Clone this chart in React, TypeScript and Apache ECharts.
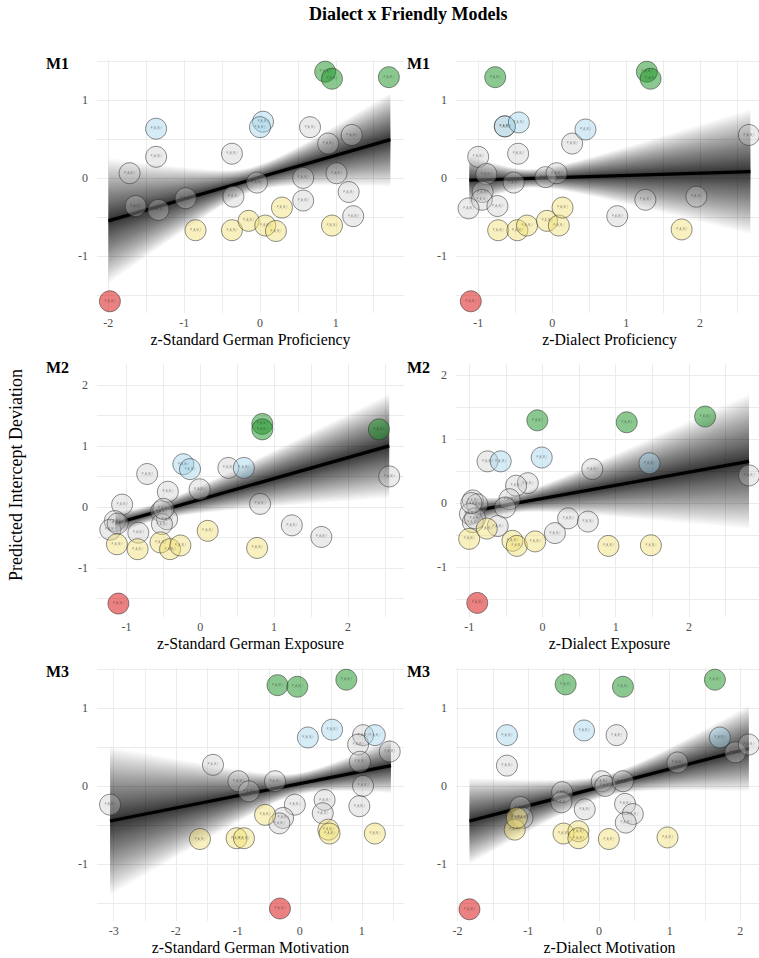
import React, { useEffect, useRef } from "react";
import * as echarts from "echarts";

const chartTitle = "Dialect x Friendly Models";
const yAxisTitle = "Predicted Intercept Deviation";
const panelTags = ["M1", "M1", "M2", "M2", "M3", "M3"];
const xTitles = [
  "z-Standard German Proficiency",
  "z-Dialect Proficiency",
  "z-Standard German Exposure",
  "z-Dialect Exposure",
  "z-Standard German Motivation",
  "z-Dialect Motivation",
];
const xRanges = [
  [-2.15, 1.9],
  [-1.3, 2.85],
  [-1.4, 2.76],
  [-1.18, 3.01],
  [-3.27, 1.68],
  [-2.02, 2.32],
];
const yRanges = [
  [-1.73, 1.51],
  [-1.73, 1.51],
  [-1.8, 2.34],
  [-1.78, 2.17],
  [-1.73, 1.51],
  [-1.73, 1.51],
];
const xTickLabels = [
  [-2, -1, 0, 1],
  [-1, 0, 1, 2],
  [-1, 0, 1, 2],
  [-1, 0, 1, 2, 3],
  [-3, -2, -1, 0, 1],
  [-2, -1, 0, 1, 2],
];
const yTickLabels = [
  [-1, 0, 1],
  [-1, 0, 1],
  [-1, 0, 1, 2],
  [-1, 0, 1, 2],
  [-1, 0, 1],
  [-1, 0, 1],
];
// regression line end points: [x0, y0, x1, y1]
const fitLines = [
  [-2.0, -0.55, 1.72, 0.49],
  [-1.12, -0.03, 2.68, 0.08],
  [-1.15, -0.27, 2.56, 1.0],
  [-0.92, -0.12, 2.82, 0.65],
  [-3.06, -0.45, 1.47, 0.26],
  [-1.83, -0.45, 2.12, 0.48],
];
// band half widths: [at left end, minimum, x of minimum, at right end]
const bandWidths = [
  [0.8, 0.16, -0.1, 0.6],
  [0.32, 0.12, -0.3, 0.8],
  [0.2, 0.14, -0.7, 0.85],
  [0.22, 0.14, -0.5, 1.05],
  [0.95, 0.14, 0.0, 0.35],
  [0.55, 0.14, 0.1, 0.55],
];

// points: [x, y, group]  g=green b=blue n=grey y=yellow r=red
const p1Points: [number, number, string][] = [
  [0.66, 0.65, "n"], [0.9, 0.44, "n"], [1.21, 0.55, "n"], [-1.37, 0.27, "n"], [-0.37, 0.31, "n"],
  [-1.72, 0.06, "n"], [-0.04, -0.06, "n"], [0.57, 0.0, "n"], [1.01, 0.06, "n"], [1.17, -0.18, "n"],
  [0.57, -0.29, "n"], [1.23, -0.49, "n"], [-0.35, -0.24, "n"], [-0.98, -0.26, "n"], [-1.64, -0.36, "n"],
  [-1.34, -0.41, "n"],
  [-0.85, -0.67, "y"], [-0.37, -0.67, "y"], [-0.15, -0.55, "y"], [0.07, -0.61, "y"], [0.21, -0.68, "y"],
  [0.29, -0.38, "y"], [0.95, -0.61, "y"],
  [-1.37, 0.63, "b"], [0.04, 0.72, "b"], [0.0, 0.65, "b"],
  [0.86, 1.36, "g"], [0.95, 1.27, "g"], [1.7, 1.29, "g"],
  [-1.98, -1.58, "r"],
];
const p2Points: [number, number, string][] = [
  [-0.64, 0.66, "n"], [0.27, 0.44, "n"], [-0.46, 0.31, "n"], [-1.0, 0.27, "n"], [-0.89, 0.05, "n"],
  [-0.52, -0.06, "n"], [-0.09, 0.01, "n"], [0.06, 0.06, "n"], [-0.94, -0.18, "n"], [-0.95, -0.28, "n"],
  [-1.13, -0.39, "n"], [-0.74, -0.36, "n"], [0.88, -0.49, "n"], [1.26, -0.28, "n"], [1.95, -0.24, "n"],
  [2.66, 0.55, "n"],
  [-0.73, -0.67, "y"], [-0.47, -0.67, "y"], [-0.34, -0.61, "y"], [-0.07, -0.55, "y"], [0.09, -0.61, "y"],
  [0.14, -0.38, "y"], [1.75, -0.66, "y"],
  [-0.64, 0.66, "b"], [-0.45, 0.71, "b"], [0.45, 0.62, "b"],
  [-0.77, 1.29, "g"], [1.28, 1.36, "g"], [1.33, 1.27, "g"],
  [-1.1, -1.58, "r"],
];
const p3Points: [number, number, string][] = [
  [0.38, 0.64, "n"], [-0.72, 0.54, "n"], [-0.01, 0.29, "n"], [-0.44, 0.25, "n"], [-1.06, 0.04, "n"],
  [0.81, 0.05, "n"], [-0.53, -0.07, "n"], [-0.45, -0.2, "n"], [-0.52, -0.28, "n"], [-1.16, -0.23, "n"],
  [-1.22, -0.37, "n"], [-0.84, -0.42, "n"], [1.24, -0.3, "n"], [1.64, -0.49, "n"], [2.56, 0.5, "n"],
  [-0.5, -0.03, "n"], [-1.12, -0.27, "n"],
  [-1.13, -0.61, "y"], [-0.85, -0.69, "y"], [-0.54, -0.58, "y"], [-0.41, -0.69, "y"], [-0.27, -0.63, "y"],
  [0.1, -0.39, "y"], [0.77, -0.67, "y"],
  [-0.23, 0.7, "b"], [-0.14, 0.62, "b"], [0.59, 0.64, "b"],
  [0.84, 1.36, "g"], [0.84, 1.27, "g"], [2.42, 1.27, "g"],
  [-1.11, -1.58, "r"],
];
const p4Points: [number, number, string][] = [
  [-0.75, 0.65, "n"], [0.68, 0.53, "n"], [2.82, 0.43, "n"], [-0.2, 0.31, "n"], [-0.36, 0.27, "n"],
  [-0.45, 0.06, "n"], [-0.51, -0.07, "n"], [-0.95, 0.04, "n"], [-0.89, -0.02, "n"], [-0.99, -0.17, "n"],
  [-0.95, -0.3, "n"], [-0.61, -0.36, "n"], [0.35, -0.24, "n"], [0.62, -0.29, "n"], [0.17, -0.47, "n"],
  [-0.92, -0.24, "n"], [-0.97, 0.0, "n"],
  [-1.0, -0.56, "y"], [-0.76, -0.4, "y"], [-0.41, -0.59, "y"], [-0.35, -0.67, "y"], [-0.1, -0.6, "y"],
  [0.9, -0.67, "y"], [1.48, -0.66, "y"],
  [-0.57, 0.65, "b"], [-0.01, 0.71, "b"], [1.46, 0.62, "b"],
  [-0.07, 1.29, "g"], [1.15, 1.26, "g"], [2.22, 1.35, "g"],
  [-0.89, -1.56, "r"],
];
const p5Points: [number, number, string][] = [
  [1.02, 0.65, "n"], [0.94, 0.53, "n"], [0.97, 0.31, "n"], [1.02, 0.0, "n"], [0.96, -0.26, "n"],
  [1.45, 0.44, "n"], [-1.4, 0.27, "n"], [-0.99, 0.06, "n"], [-0.82, -0.07, "n"], [-0.4, 0.06, "n"],
  [-0.08, -0.24, "n"], [0.4, -0.18, "n"], [0.37, -0.35, "n"], [-0.27, -0.41, "n"], [-0.33, -0.48, "n"],
  [-3.06, -0.24, "n"],
  [-1.61, -0.68, "y"], [-1.02, -0.67, "y"], [-0.9, -0.67, "y"], [-0.56, -0.37, "y"], [0.46, -0.56, "y"],
  [0.48, -0.61, "y"], [1.21, -0.61, "y"],
  [0.13, 0.62, "b"], [0.52, 0.72, "b"], [1.21, 0.65, "b"],
  [-0.36, 1.29, "g"], [-0.04, 1.27, "g"], [0.75, 1.36, "g"],
  [-0.32, -1.57, "r"],
];
const p6Points: [number, number, string][] = [
  [0.25, 0.65, "n"], [-1.3, 0.26, "n"], [1.11, 0.3, "n"], [1.93, 0.43, "n"], [2.12, 0.53, "n"],
  [0.04, 0.06, "n"], [0.09, 0.0, "n"], [0.34, 0.06, "n"], [-0.52, -0.08, "n"], [-0.53, -0.21, "n"],
  [-1.11, -0.27, "n"], [-1.08, -0.41, "n"], [-0.2, -0.3, "n"], [0.37, -0.23, "n"], [0.48, -0.36, "n"],
  [0.38, -0.47, "n"],
  [-1.19, -0.56, "y"], [-1.16, -0.41, "y"], [-0.5, -0.61, "y"], [-0.29, -0.58, "y"], [-0.29, -0.67, "y"],
  [0.14, -0.68, "y"], [0.97, -0.66, "y"],
  [-1.3, 0.65, "b"], [-0.21, 0.71, "b"], [1.71, 0.62, "b"],
  [-0.47, 1.3, "g"], [0.34, 1.27, "g"], [1.64, 1.36, "g"],
  [-1.83, -1.58, "r"],
];
const panelPoints = [p1Points, p2Points, p3Points, p4Points, p5Points, p6Points];

const groupFill: Record<string, string> = {
  g: "rgba(30,150,40,0.65)",
  b: "rgba(160,210,232,0.55)",
  n: "rgba(200,200,200,0.45)",
  y: "rgba(240,220,110,0.55)",
  r: "rgba(220,30,30,0.7)",
};

const SERIF = "'Liberation Serif', 'DejaVu Serif', serif";
const colLefts = [97, 456];
const rowTops = [60, 364, 668];
const gridW = 307;
const gridH = 253;

function halves(lo: number, hi: number): number[] {
  const out: number[] = [];
  for (let v = Math.ceil(lo * 2) / 2; v <= hi + 1e-9; v += 0.5) out.push(Math.round(v * 2) / 2);
  return out;
}

function buildOption() {
  const grids: any[] = [];
  const xAxes: any[] = [];
  const yAxes: any[] = [];
  const series: any[] = [];
  const graphics: any[] = [];

  for (let i = 0; i < 6; i++) {
    const col = i % 2;
    const row = Math.floor(i / 2);
    grids.push({
      left: colLefts[col],
      top: rowTops[row],
      width: gridW,
      height: gridH,
      containLabel: false,
      outerBoundsMode: "none",
    });
    xAxes.push({
      gridIndex: i,
      type: "value",
      min: xRanges[i][0],
      max: xRanges[i][1],
      axisLine: { show: false },
      axisTick: { show: false, customValues: halves(xRanges[i][0], xRanges[i][1]) },
      axisLabel: {
        customValues: xTickLabels[i],
        fontFamily: SERIF,
        fontSize: 12,
        color: "#4d4d4d",
        margin: 4,
      },
      splitLine: { show: true, lineStyle: { color: "#ebebeb", width: 1 } },
      name: xTitles[i],
      nameLocation: "middle",
      nameGap: 18,
      nameTextStyle: { fontFamily: SERIF, fontSize: 15.8, color: "#000" },
    });
    yAxes.push({
      gridIndex: i,
      type: "value",
      min: yRanges[i][0],
      max: yRanges[i][1],
      axisLine: { show: false },
      axisTick: { show: false, customValues: halves(yRanges[i][0], yRanges[i][1]) },
      axisLabel: {
        customValues: yTickLabels[i],
        fontFamily: SERIF,
        fontSize: 12,
        color: "#4d4d4d",
        margin: 9,
      },
      splitLine: { show: true, lineStyle: { color: "#ebebeb", width: 1 } },
    });

    const [x0, y0, x1, y1] = fitLines[i];
    const [hL, hMin, xMin, hR] = bandWidths[i];
    const halfWidth = (x: number) => {
      const endX = x < xMin ? x0 : x1;
      const endH = x < xMin ? hL : hR;
      const t = (x - xMin) / (endX - xMin || 1);
      return Math.sqrt(hMin * hMin + (endH * endH - hMin * hMin) * t * t);
    };
    series.push({
      type: "custom",
      xAxisIndex: i,
      yAxisIndex: i,
      silent: true,
      z: 1,
      data: [[x0, y0]],
      renderItem: (_params: any, api: any) => {
        const K = 64;
        const steps = 50;
        const children: any[] = [];
        for (let k = K; k >= 1; k--) {
          const f = Math.pow(k / K, 1.8);
          const upper: number[][] = [];
          const lower: number[][] = [];
          for (let s = 0; s <= steps; s++) {
            const x = x0 + ((x1 - x0) * s) / steps;
            const yc = y0 + ((y1 - y0) * (x - x0)) / (x1 - x0);
            const h = halfWidth(x) * f;
            upper.push(api.coord([x, yc + h]));
            lower.push(api.coord([x, yc - h]));
          }
          children.push({
            type: "polygon",
            shape: { points: upper.concat(lower.reverse()) },
            style: { fill: "rgba(0,0,0,0.024)" },
          });
        }
        return { type: "group", children };
      },
    });
    series.push({
      type: "line",
      xAxisIndex: i,
      yAxisIndex: i,
      z: 2,
      symbol: "none",
      silent: true,
      data: [
        [x0, y0],
        [x1, y1],
      ],
      lineStyle: { color: "#000", width: 3.2 },
    });
    series.push({
      type: "scatter",
      xAxisIndex: i,
      yAxisIndex: i,
      z: 3,
      symbolSize: 21,
      clip: false,
      data: panelPoints[i].map(([x, y, g]) => ({
        value: [x, y],
        itemStyle: {
          color: groupFill[g],
          borderColor: "rgba(40,40,40,0.65)",
          borderWidth: 1,
        },
      })),
      label: {
        show: true,
        position: "inside",
        formatter: "P_A_M_f",
        fontSize: 2.6,
        color: "rgba(40,40,40,0.8)",
      },
    });

    graphics.push({
      type: "text",
      left: col === 0 ? 46 : 407,
      top: rowTops[row] - 5,
      style: {
        text: panelTags[i],
        font: `bold 16px ${SERIF}`,
        fill: "#000",
      },
    });
  }

  graphics.push({
    type: "text",
    left: 309,
    top: 5,
    style: {
      text: chartTitle,
      font: `bold 18px ${SERIF}`,
      fill: "#000",
    },
  });
  graphics.push({
    type: "text",
    x: 16,
    y: 475,
    rotation: Math.PI / 2,
    style: {
      text: yAxisTitle,
      font: `18px ${SERIF}`,
      fill: "#000",
      align: "center",
      verticalAlign: "middle",
      textAlign: "center",
      textVerticalAlign: "middle",
    },
  });

  return {
    animation: false,
    backgroundColor: "#fff",
    grid: grids,
    xAxis: xAxes,
    yAxis: yAxes,
    series,
    graphic: graphics,
  };
}

export default function App() {
  const ref = useRef<HTMLDivElement>(null);
  useEffect(() => {
    document.body.style.margin = "0";
    if (!ref.current) return;
    const chart = echarts.init(ref.current, undefined, { renderer: "svg" });
    chart.setOption(buildOption() as any);
    return () => chart.dispose();
  }, []);
  return <div ref={ref} style={{ width: 759, height: 958 }} />;
}
